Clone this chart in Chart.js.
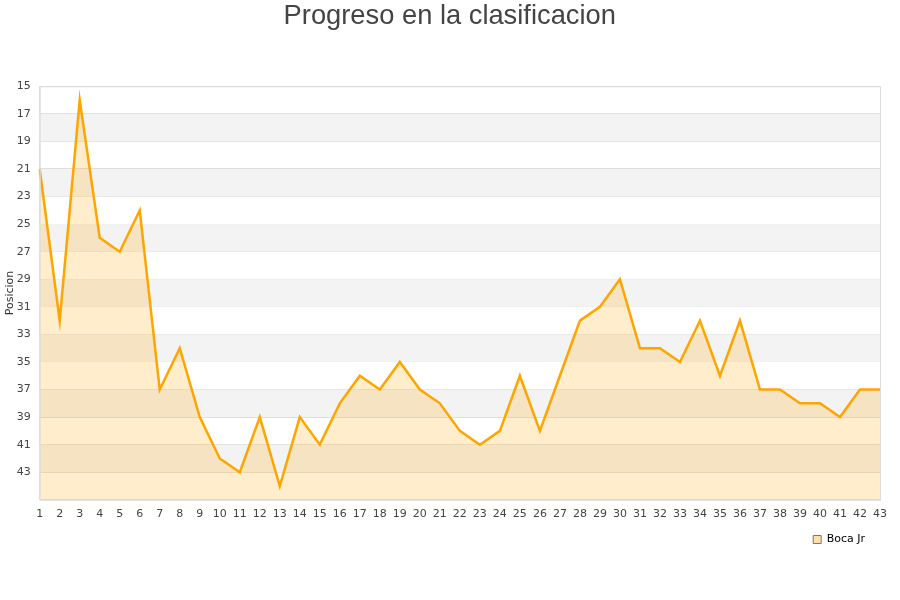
<!DOCTYPE html>
<html>
<head>
<meta charset="utf-8">
<script src="https://cdn.jsdelivr.net/npm/chart.js@4/dist/chart.umd.min.js"></script>
<style>
  html, body { margin: 0; padding: 0; background: #fff; }
  #wrap { width: 900px; height: 600px; }
</style>
</head>
<body>
<div id="wrap"><canvas id="chart"></canvas></div>
<script>
// jornadas 1..43
const jornadas = [];
for (let i = 1; i <= 43; i++) jornadas.push(String(i));

const posicionBoca = [
  21, 32, 16, 26, 27, 24, 37, 34, 39, 42,
  43, 39, 44, 39, 41, 38, 36, 37, 35, 37,
  38, 40, 41, 40, 36, 40, 36, 32, 31, 29,
  34, 34, 35, 32, 36, 32, 37, 37, 38, 38,
  39, 37, 37
];

const yTicks = [15, 17, 19, 21, 23, 25, 27, 29, 31, 33, 35, 37, 39, 41, 43];

// alternating grey bands between tick lines + light frame
const bandsPlugin = {
  id: 'bands',
  afterLayout(chart) {
    // nudge the legend a little in from the plot's right edge
    if (chart.legend) {
      chart.legend.left -= 8;
      chart.legend.right -= 8;
      chart.legend.top -= 1;
      chart.legend.bottom -= 1;
    }
  },
  beforeDatasetsDraw(chart) {
    const { ctx, chartArea, scales } = chart;
    const y = scales.y;
    ctx.save();
    ctx.fillStyle = '#f3f3f3';
    for (let i = 1; i < yTicks.length; i += 2) {
      const a = y.getPixelForValue(yTicks[i]);
      const b = y.getPixelForValue(i + 1 < yTicks.length ? yTicks[i + 1] : 45);
      ctx.fillRect(chartArea.left, a, chartArea.right - chartArea.left, b - a);
    }
    ctx.restore();
  },
  afterDraw(chart) {
    const { ctx, chartArea } = chart;
    ctx.save();
    ctx.strokeStyle = '#dddddd';
    ctx.lineWidth = 1;
    ctx.strokeRect(chartArea.left + 0.5, chartArea.top + 0.5,
      chartArea.right - chartArea.left, chartArea.bottom - chartArea.top);
    ctx.restore();
  }
};

new Chart(document.getElementById('chart'), {
  type: 'line',
  data: {
    labels: jornadas,
    datasets: [{
      label: 'Boca Jr',
      data: posicionBoca,
      borderColor: '#ffa500',
      backgroundColor: 'rgba(255, 165, 0, 0.2)',
      borderWidth: 2.5,
      fill: 'start',
      tension: 0,
      pointRadius: 0,
      pointHoverRadius: 0
    }]
  },
  options: {
    responsive: true,
    maintainAspectRatio: false,
    animation: false,
    layout: { padding: { left: 3.5, right: 4, top: 0, bottom: 44 } },
    plugins: {
      title: {
        display: true,
        text: 'Progreso en la clasificacion',
        color: '#444',
        font: { family: 'Liberation Sans', size: 27.3, weight: 'normal' },
        padding: { top: 0, bottom: 53.5 }
      },
      legend: {
        position: 'bottom',
        align: 'end',
        fullSize: false,
        labels: {
          boxWidth: 8,
          boxHeight: 8,
          padding: 7,
          color: '#111',
          font: { family: 'DejaVu Sans', size: 11 },
          generateLabels(chart) {
            return [{
              text: 'Boca Jr',
              fillStyle: 'rgba(255, 220, 160, 0.9)',
              strokeStyle: '#777',
              lineWidth: 1,
              datasetIndex: 0
            }];
          }
        }
      },
      tooltip: { enabled: false }
    },
    scales: {
      x: {
        offset: false,
        grid: { display: false, drawTicks: false, tickLength: 0 },
        border: { display: true, color: '#dddddd' },
        ticks: {
          autoSkip: false,
          maxRotation: 0,
          color: '#444',
          font: { family: 'DejaVu Sans', size: 11, lineHeight: 0.2 },
          padding: 13
        }
      },
      y: {
        reverse: true,
        min: 15,
        max: 45,
        afterBuildTicks(axis) {
          axis.ticks = yTicks.map(v => ({ value: v }));
        },
        grid: { color: '#dddddd', drawTicks: false, tickLength: 0 },
        border: { display: true, color: '#dddddd' },
        title: {
          display: true,
          text: 'Posicion',
          color: '#333',
          font: { family: 'DejaVu Sans', size: 11 },
          padding: { top: 0, bottom: -9 }
        },
        ticks: {
          color: '#444',
          font: { family: 'DejaVu Sans', size: 11 },
          padding: 9
        }
      },
      // empty right-hand spacer so the plot stops short of the canvas edge
      yRight: {
        position: 'right',
        grid: { display: false, drawTicks: false },
        border: { display: false },
        ticks: { display: false },
        afterFit(axis) { axis.width = 16; }
      }
    }
  },
  plugins: [bandsPlugin]
});
</script>
</body>
</html>
